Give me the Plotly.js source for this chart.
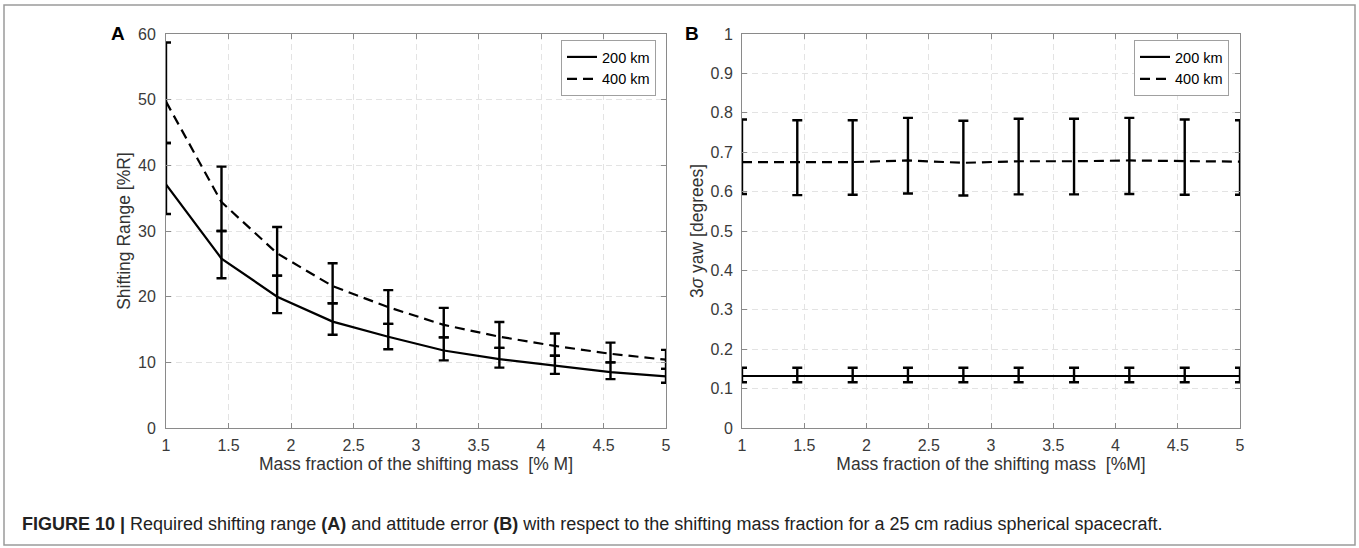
<!DOCTYPE html>
<html>
<head>
<meta charset="utf-8">
<script src="https://cdn.plot.ly/plotly-3.0.1.min.js"></script>
<style>html,body{margin:0;padding:0;background:#fff;}#chart{width:1359px;height:548px;}</style>
</head>
<body>
<div id="chart"></div>
<script>
// Mass fraction of the shifting mass [% M]
const massFraction = [1, 1.444, 1.889, 2.333, 2.778, 3.222, 3.667, 4.111, 4.556, 5];

// Panel A: shifting range [%R]
const range200 = [37.1, 25.8, 20.0, 16.2, 13.9, 11.8, 10.5, 9.5, 8.5, 7.85];
const range200Hi = [43.4, 30.0, 23.2, 19.0, 15.85, 13.8, 12.2, 11.0, 10.0, 9.0];
const range200Lo = [32.6, 22.8, 17.5, 14.2, 12.0, 10.3, 9.2, 8.25, 7.45, 6.9];
const range400 = [49.7, 34.4, 26.6, 21.6, 18.4, 15.7, 13.9, 12.5, 11.3, 10.4];
const range400Hi = [58.7, 39.8, 30.6, 25.1, 21.0, 18.3, 16.15, 14.4, 13.0, 11.9];
const range400Lo = [43.4, 30.0, 23.2, 19.0, 15.85, 13.8, 12.2, 11.0, 10.0, 9.0];

// Panel B: 3 sigma yaw [degrees]
const yaw200 = [0.132, 0.132, 0.132, 0.132, 0.132, 0.132, 0.132, 0.132, 0.132, 0.132];
const yaw200Hi = [0.153, 0.153, 0.153, 0.153, 0.153, 0.153, 0.153, 0.153, 0.153, 0.153];
const yaw200Lo = [0.116, 0.116, 0.116, 0.116, 0.116, 0.116, 0.116, 0.116, 0.116, 0.116];
const yaw400 = [0.675, 0.675, 0.675, 0.679, 0.673, 0.677, 0.677, 0.679, 0.677, 0.676];
const yaw400Hi = [0.783, 0.781, 0.781, 0.787, 0.780, 0.785, 0.785, 0.787, 0.783, 0.781];
const yaw400Lo = [0.594, 0.591, 0.592, 0.595, 0.590, 0.593, 0.593, 0.594, 0.592, 0.592];

const seriesNames = ['200 km', '400 km'];
const xTicks = [1, 1.5, 2, 2.5, 3, 3.5, 4, 4.5, 5];
const yTicksA = [0, 10, 20, 30, 40, 50, 60];
const yTicksB = [0, 0.1, 0.2, 0.3, 0.4, 0.5, 0.6, 0.7, 0.8, 0.9, 1];

const W = 1359, H = 548;
const px = v => v / W;
const py = v => 1 - v / H;

function errObj(center, hi, lo) {
  return {
    type: 'data', symmetric: false,
    array: hi.map((h, i) => h - center[i]),
    arrayminus: lo.map((l, i) => center[i] - l),
    color: '#000', thickness: 2.4, width: 5
  };
}

function trace(y, hi, lo, name, dash, xa, ya, leg) {
  return {
    type: 'scatter', mode: 'lines', x: massFraction, y: y, name: name,
    xaxis: xa, yaxis: ya, legend: leg,
    line: {color: '#000', width: 2.2, dash: dash},
    error_y: errObj(y, hi, lo), cliponaxis: true, hoverinfo: 'skip'
  };
}

const DASH = '10px,6px';
const data = [
  trace(range200, range200Hi, range200Lo, seriesNames[0], 'solid', 'x', 'y', 'legend'),
  trace(range400, range400Hi, range400Lo, seriesNames[1], DASH, 'x', 'y', 'legend'),
  trace(yaw200, yaw200Hi, yaw200Lo, seriesNames[0], 'solid', 'x2', 'y2', 'legend2'),
  trace(yaw400, yaw400Hi, yaw400Lo, seriesNames[1], DASH, 'x2', 'y2', 'legend2')
];

const font = 'Liberation Sans, Arial, Helvetica, sans-serif';
const titleFont = {family: font, size: 17.5, color: '#333'};
const axisCommon = {
  showline: true, linecolor: '#8a8a8a', linewidth: 1, mirror: 'ticks',
  ticks: 'inside', ticklen: 5, tickcolor: '#8a8a8a', tickwidth: 1,
  showgrid: true, gridcolor: '#e3e3e3', griddash: '6px,4px', gridwidth: 1,
  zeroline: false, tickfont: {family: font, size: 16, color: '#3a3a3a'},
  fixedrange: true
};

const layout = {
  width: W, height: H, margin: {l: 0, r: 0, t: 0, b: 0},
  paper_bgcolor: '#fff', plot_bgcolor: '#fff', font: {family: font, color: '#333'},
  showlegend: true,
  xaxis: Object.assign({}, axisCommon, {
    domain: [px(166), px(666)], range: [1, 5], tickvals: xTicks, anchor: 'y', ticklabelstandoff: 3,
    title: {text: 'Mass fraction of the shifting mass  [% M]', font: titleFont, standoff: 2}
  }),
  yaxis: Object.assign({}, axisCommon, {
    domain: [py(428), py(34)], range: [0, 60], tickvals: yTicksA, anchor: 'x', ticklabelstandoff: 6,
    title: {text: 'Shifting Range [%R]', font: titleFont, standoff: 2}
  }),
  xaxis2: Object.assign({}, axisCommon, {
    domain: [px(742), px(1240)], range: [1, 5], tickvals: xTicks, anchor: 'y2', ticklabelstandoff: 3,
    title: {text: 'Mass fraction of the shifting mass  [%M]', font: titleFont, standoff: 2}
  }),
  yaxis2: Object.assign({}, axisCommon, {
    domain: [py(428), py(34)], range: [0, 1], tickvals: yTicksB, anchor: 'x2', ticklabelstandoff: 5,
    title: {text: '3<i>σ</i> yaw [degrees]', font: titleFont, standoff: 2}
  }),
  legend: {
    x: px(656), y: py(40), xanchor: 'right', yanchor: 'top',
    bgcolor: '#fff', bordercolor: '#a0a0a0', borderwidth: 1,
    font: {family: font, size: 14.5, color: '#000'}, tracegroupgap: 0
  },
  legend2: {
    x: px(1229), y: py(40), xanchor: 'right', yanchor: 'top',
    bgcolor: '#fff', bordercolor: '#a0a0a0', borderwidth: 1,
    font: {family: font, size: 14.5, color: '#000'}, tracegroupgap: 0
  },
  shapes: [{
    type: 'rect', xref: 'paper', yref: 'paper',
    x0: px(4), x1: px(1355), y0: py(545), y1: py(5),
    line: {color: '#9a9a9a', width: 1.5}, fillcolor: 'rgba(0,0,0,0)'
  }],
  annotations: [
    {text: '<b>A</b>', xref: 'paper', yref: 'paper', x: px(118), y: py(33), xanchor: 'center', yanchor: 'middle', showarrow: false, font: {family: font, size: 19, color: '#000'}},
    {text: '<b>B</b>', xref: 'paper', yref: 'paper', x: px(692), y: py(33), xanchor: 'center', yanchor: 'middle', showarrow: false, font: {family: font, size: 19, color: '#000'}},
    {text: '<b>FIGURE 10 |</b> Required shifting range <b>(A)</b> and attitude error <b>(B)</b> with respect to the shifting mass fraction for a 25 cm radius spherical spacecraft.',
     xref: 'paper', yref: 'paper', x: px(20), y: py(524), xanchor: 'left', yanchor: 'middle', showarrow: false,
     font: {family: font, size: 18, color: '#222'}}
  ]
};

Plotly.newPlot('chart', data, layout, {staticPlot: true, displayModeBar: false});
</script>
</body>
</html>
